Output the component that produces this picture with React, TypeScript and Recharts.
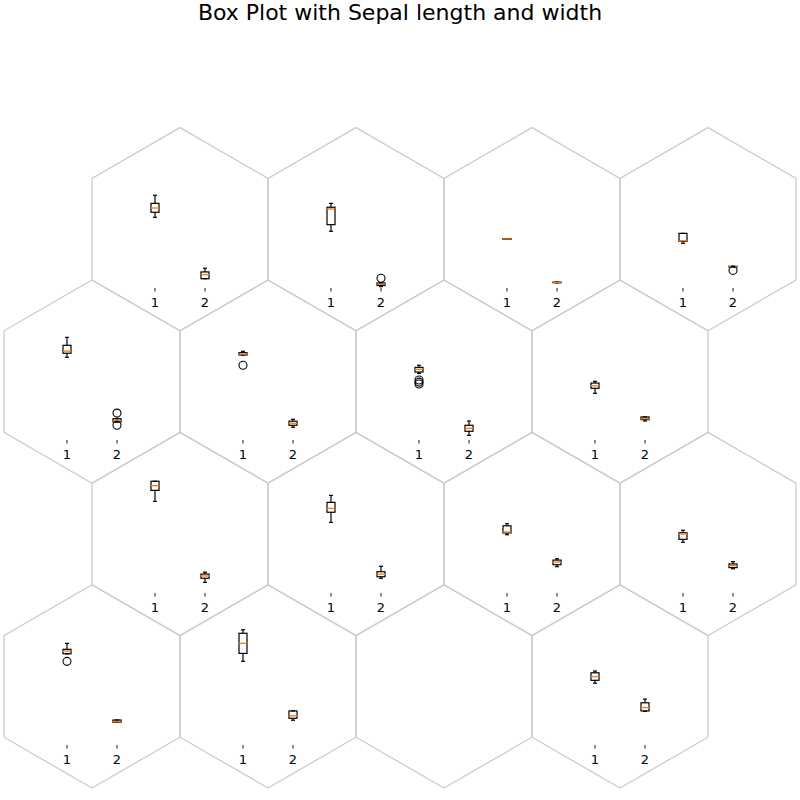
import { ComposedChart, Bar, XAxis, YAxis } from "recharts";

// hex grid: 4 rows x 4 cols, odd rows shifted left by half a hex
const boxLabels = ["1", "2"];

// [low whisker, q1, median, q3, high whisker] per hex (row by row), null = empty hex
const sepalLengthStats: (number[] | null)[] = [
  [5.55, 5.81, 6.03, 6.27, 6.69],
  [4.83, 5.17, 5.98, 6.07, 6.27],
  [4.41, 4.41, 4.43, 4.45, 4.45],
  [4.21, 4.31, 4.34, 4.72, 4.72],
  [6.17, 6.38, 6.49, 6.79, 7.2],
  [6.29, 6.29, 6.34, 6.41, 6.48],
  [5.34, 5.41, 5.55, 5.65, 5.76],
  [4.31, 4.57, 4.7, 4.84, 4.93],
  [6.63, 7.2, 7.44, 7.67, 7.67],
  [5.55, 6.07, 6.27, 6.58, 6.94],
  [4.91, 5.0, 5.05, 5.37, 5.48],
  [4.52, 4.67, 4.95, 5.01, 5.14],
  [6.61, 6.61, 6.75, 6.84, 7.15],
  [6.22, 6.63, 7.15, 7.67, 7.85],
  null,
  [5.09, 5.24, 5.43, 5.63, 5.72],
];

const sepalWidthStats: (number[] | null)[] = [
  [2.38, 2.38, 2.59, 2.73, 2.92],
  [1.97, 2.03, 2.09, 2.16, 2.16],
  [2.17, 2.17, 2.19, 2.21, 2.21],
  [2.98, 2.98, 3.0, 3.02, 3.02],
  [2.83, 2.83, 2.9, 3.0, 3.0],
  [2.56, 2.66, 2.76, 2.87, 2.97],
  [2.14, 2.35, 2.5, 2.66, 2.88],
  [2.88, 2.95, 3.0, 3.09, 3.09],
  [2.45, 2.66, 2.78, 2.88, 2.98],
  [2.66, 2.74, 2.87, 3.0, 3.28],
  [3.26, 3.36, 3.5, 3.6, 3.67],
  [3.15, 3.21, 3.31, 3.4, 3.52],
  [3.07, 3.07, 3.1, 3.19, 3.19],
  [3.18, 3.28, 3.41, 3.66, 3.66],
  null,
  [3.64, 3.66, 3.83, 4.08, 4.27],
];

const sepalLengthFliers: number[][] = [
  [], [], [], [],
  [], [5.76], [5.0, 4.89, 4.79], [],
  [], [], [], [],
  [6.22], [], [], [],
];

const sepalWidthFliers: number[][] = [
  [], [2.4], [], [2.81],
  [3.29, 2.66], [], [], [],
  [], [], [], [],
  [], [], [], [],
];

const HEX_R = 101.6;
const HEX_W = 176;
const PLOT_H = 122;
const FONT = "'DejaVu Sans', sans-serif";

function hexCenter(i: number) {
  const row = Math.floor(i / 4);
  const col = i % 4;
  const cx = (row % 2 === 0 ? 180 : 92) + HEX_W * col;
  const cy = 229.2 + 1.5 * HEX_R * row;
  return { cx, cy };
}

function hexPoints(cx: number, cy: number) {
  const pts: string[] = [];
  for (let k = 0; k < 6; k++) {
    const a = ((-90 + 60 * k) * Math.PI) / 180;
    pts.push(`${cx + HEX_R * Math.cos(a)},${cy + HEX_R * Math.sin(a)}`);
  }
  return pts.join(" ");
}

// draws whiskers, box, median and fliers inside the bar's [lo, hi] span
const BoxShape = (props: any) => {
  const { x, y, width, height, payload } = props;
  const s: number[] = payload.stats;
  const fl: number[] = payload.fliers;
  const [lo, hi] = payload.span;
  const top = Math.min(y, y + height);
  const bottom = Math.max(y, y + height);
  const toY = (v: number) =>
    hi === lo ? top : bottom - ((v - lo) / (hi - lo)) * (bottom - top);
  const cx = x + width / 2;
  const half = width / 2;
  const cap = width / 4;
  return (
    <g>
      <line x1={cx} x2={cx} y1={toY(s[0])} y2={toY(s[1])} stroke="#000" strokeWidth={1.2} />
      <line x1={cx} x2={cx} y1={toY(s[3])} y2={toY(s[4])} stroke="#000" strokeWidth={1.2} />
      <line x1={cx - cap} x2={cx + cap} y1={toY(s[0])} y2={toY(s[0])} stroke="#000" strokeWidth={1.2} />
      <line x1={cx - cap} x2={cx + cap} y1={toY(s[4])} y2={toY(s[4])} stroke="#000" strokeWidth={1.2} />
      <rect
        x={cx - half}
        y={toY(s[3])}
        width={width}
        height={Math.max(toY(s[1]) - toY(s[3]), 0)}
        fill="none"
        stroke="#000"
        strokeWidth={1.2}
      />
      <line x1={cx - half} x2={cx + half} y1={toY(s[2])} y2={toY(s[2])} stroke="#ff7f0e" strokeWidth={1.4} />
      {fl.map((f, i) => (
        <circle key={i} cx={cx} cy={toY(f)} r={4} fill="none" stroke="#000" strokeWidth={1.1} />
      ))}
    </g>
  );
};

function HexBoxPlot({ idx }: { idx: number }) {
  const len = sepalLengthStats[idx];
  const wid = sepalWidthStats[idx];
  if (!len || !wid) return null;
  const lf = sepalLengthFliers[idx];
  const wf = sepalWidthFliers[idx];
  const data = [
    {
      name: boxLabels[0],
      stats: len,
      fliers: lf,
      span: [Math.min(len[0], ...lf), Math.max(len[4], ...lf)],
    },
    {
      name: boxLabels[1],
      stats: wid,
      fliers: wf,
      span: [Math.min(wid[0], ...wf), Math.max(wid[4], ...wf)],
    },
  ];
  const { cx, cy } = hexCenter(idx);
  const axisY = cy + 58.8;
  return (
    <div style={{ position: "absolute", left: cx - 50, top: axisY - PLOT_H }}>
      <ComposedChart
        width={100}
        height={PLOT_H + 30}
        data={data}
        margin={{ top: 0, right: 0, bottom: 0, left: 0 }}
      >
        <XAxis
          dataKey="name"
          axisLine={false}
          tickSize={3.5}
          tickMargin={6}
          height={30}
          interval={0}
          tickLine={{ stroke: "#000", strokeWidth: 0.9 }}
          tick={{ fill: "#000", fontSize: 13, fontFamily: FONT }}
        />
        <YAxis type="number" domain={[1.9, 8.2]} hide />
        <Bar dataKey="span" barSize={8} shape={BoxShape} isAnimationActive={false} />
      </ComposedChart>
    </div>
  );
}

export default function App() {
  const cells = Array.from({ length: 16 }, (_, i) => i);
  return (
    <div
      style={{
        position: "absolute",
        left: 0,
        top: 0,
        width: 800,
        height: 800,
        background: "#fff",
        fontFamily: FONT,
      }}
    >
      <svg width={800} height={800} style={{ position: "absolute", left: 0, top: 0 }}>
        {cells.map((i) => {
          const { cx, cy } = hexCenter(i);
          return (
            <polygon
              key={i}
              points={hexPoints(cx, cy)}
              fill="none"
              stroke="#cccccc"
              strokeWidth={1.3}
            />
          );
        })}
        <text x={400} y={20} textAnchor="middle" fontSize={22} fontFamily={FONT} fill="#000">
          Box Plot with Sepal length and width
        </text>
      </svg>
      {cells.map((i) => (
        <HexBoxPlot key={i} idx={i} />
      ))}
    </div>
  );
}
